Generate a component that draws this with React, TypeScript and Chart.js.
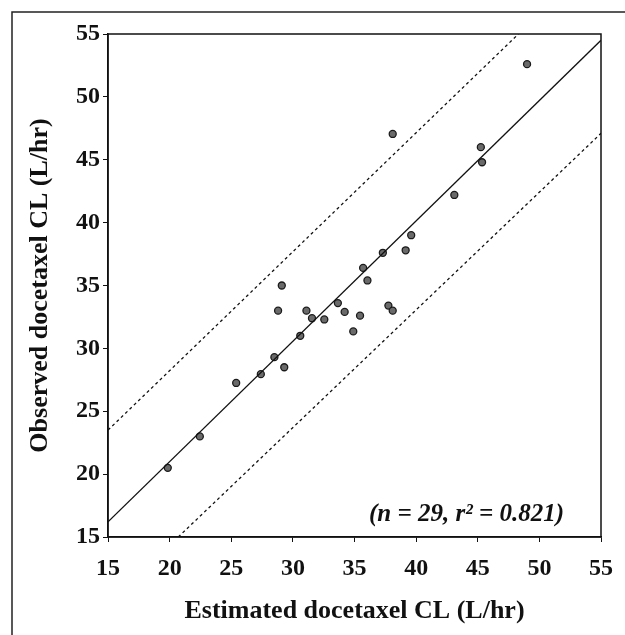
import React, { useEffect, useRef } from "react";
import { Chart, registerables } from "chart.js";

Chart.register(...registerables);

// Estimated vs observed docetaxel clearance (L/hr)
const estimatedCL = [
  19.85, 22.45, 25.4, 27.4, 28.5, 28.8, 29.1, 29.3, 30.6, 31.1, 31.55, 32.55,
  33.65, 34.2, 34.9, 35.45, 35.7, 36.05, 37.3, 37.75, 38.1, 38.1, 39.15, 39.6,
  43.1, 45.25, 45.35, 49.0,
];
const observedCL = [
  20.5, 23.0, 27.25, 27.95, 29.3, 33.0, 35.0, 28.5, 31.0, 33.0, 32.4, 32.3,
  33.6, 32.9, 31.35, 32.6, 36.4, 35.4, 37.6, 33.4, 33.0, 47.05, 37.8, 39.0,
  42.2, 46.0, 44.8, 52.6,
];

// Regression line and prediction bounds (end points in data units)
const fitX = [15, 55];
const fitY = [16.2, 54.5];
const upperX = [15, 48.3];
const upperY = [23.5, 55];
const lowerX = [20.7, 55];
const lowerY = [15, 47.1];

const tickValues = [15, 20, 25, 30, 35, 40, 45, 50, 55];
const xTitle = "Estimated docetaxel CL (L/hr)";
const yTitle = "Observed docetaxel CL (L/hr)";
const statsLabel = "(n = 29, r\u00B2 = 0.821)";

const toPoints = (xs: number[], ys: number[]) =>
  xs.map((x, i) => ({ x, y: ys[i] }));

const framePlugin = {
  id: "framePlugin",
  beforeDraw(chart: any) {
    const ctx = chart.ctx;
    ctx.save();
    ctx.fillStyle = "#ffffff";
    ctx.fillRect(0, 0, chart.width, chart.height);
    ctx.strokeStyle = "#222";
    ctx.lineWidth = 1.5;
    ctx.beginPath();
    ctx.moveTo(12, chart.height);
    ctx.lineTo(12, 12);
    ctx.lineTo(chart.width, 12);
    ctx.stroke();
    ctx.restore();
  },
  afterDraw(chart: any) {
    const { ctx, chartArea } = chart;
    ctx.save();
    ctx.strokeStyle = "#111";
    ctx.lineWidth = 1.5;
    ctx.strokeRect(
      chartArea.left,
      chartArea.top,
      chartArea.right - chartArea.left,
      chartArea.bottom - chartArea.top
    );
    ctx.fillStyle = "#111";
    ctx.font = "italic bold 25px 'Liberation Serif'";
    ctx.textAlign = "right";
    ctx.textBaseline = "middle";
    ctx.fillText(statsLabel, chartArea.right - 37, chartArea.bottom - 22);
    ctx.restore();
  },
};

export default function App() {
  const ref = useRef<HTMLCanvasElement>(null);

  useEffect(() => {
    if (!ref.current) return;
    const font = { family: "'Liberation Serif'", weight: "bold" as const };
    const chart = new Chart(ref.current, {
      type: "scatter",
      data: {
        datasets: [
          {
            label: "fit",
            type: "line",
            data: toPoints(fitX, fitY),
            borderColor: "#111",
            borderWidth: 1.3,
            pointRadius: 0,
            fill: false,
          },
          {
            label: "upper",
            type: "line",
            data: toPoints(upperX, upperY),
            borderColor: "#111",
            borderWidth: 1.3,
            borderDash: [3, 3],
            pointRadius: 0,
            fill: false,
          },
          {
            label: "lower",
            type: "line",
            data: toPoints(lowerX, lowerY),
            borderColor: "#111",
            borderWidth: 1.3,
            borderDash: [3, 3],
            pointRadius: 0,
            fill: false,
          },
          {
            label: "patients",
            data: toPoints(estimatedCL, observedCL),
            backgroundColor: "#6a6a6a",
            borderColor: "#1a1a1a",
            borderWidth: 1.3,
            pointRadius: 3.5,
          },
        ],
      },
      options: {
        responsive: false,
        animation: false,
        layout: { padding: { left: 0, top: 34, right: 18, bottom: 0 } },
        plugins: {
          legend: { display: false },
          tooltip: { enabled: false },
        },
        scales: {
          x: {
            type: "linear",
            min: 15,
            max: 55,
            afterBuildTicks: (s: any) => {
              s.ticks = tickValues.map((v) => ({ value: v }));
            },
            afterFit: (s: any) => {
              s.height = 98;
            },
            grid: {
              drawOnChartArea: false,
              drawTicks: true,
              tickLength: 5,
              color: "#111",
            },
            border: { display: true, color: "#111", width: 1.5 },
            ticks: {
              color: "#111",
              padding: 12,
              font: { ...font, size: 24 },
            },
            title: {
              display: true,
              text: xTitle,
              color: "#111",
              font: { ...font, size: 26 },
              padding: { top: 0, bottom: 8 },
            },
          },
          y: {
            type: "linear",
            min: 15,
            max: 55,
            afterBuildTicks: (s: any) => {
              s.ticks = tickValues.map((v) => ({ value: v }));
            },
            afterFit: (s: any) => {
              s.width = 108;
            },
            grid: {
              drawOnChartArea: false,
              drawTicks: true,
              tickLength: 5,
              color: "#111",
            },
            border: { display: true, color: "#111", width: 1.5 },
            ticks: {
              color: "#111",
              padding: 3,
              font: { ...font, size: 24 },
            },
            title: {
              display: true,
              text: yTitle,
              color: "#111",
              font: { ...font, size: 26 },
              padding: { top: 25, bottom: 0 },
            },
          },
        },
      },
      plugins: [framePlugin],
    });
    return () => chart.destroy();
  }, []);

  return (
    <div style={{ position: "fixed", left: 0, top: 0, width: 625, height: 635 }}>
      <canvas ref={ref} width={625} height={635} style={{ display: "block" }} />
    </div>
  );
}
